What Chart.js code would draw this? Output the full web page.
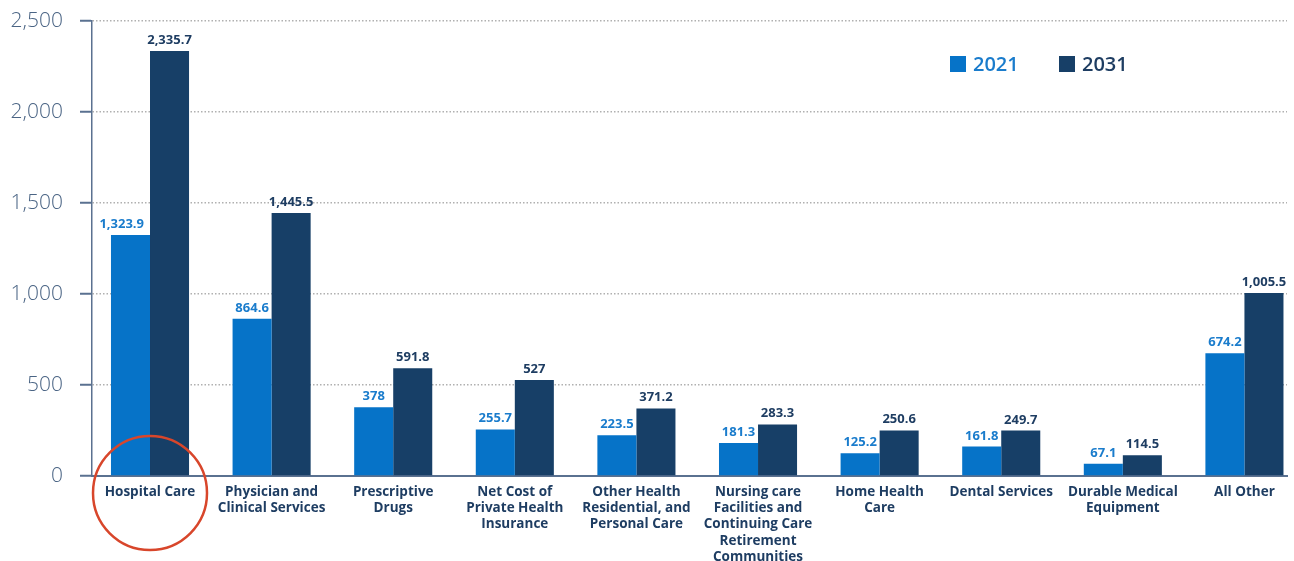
<!DOCTYPE html>
<html>
<head>
<meta charset="utf-8">
<script src="https://cdn.jsdelivr.net/npm/chart.js@4/dist/chart.umd.min.js"></script>
<style>
  html, body { margin: 0; padding: 0; background: #ffffff; }
  #wrap { width: 1294px; height: 561px; }
</style>
</head>
<body>
<div id="wrap"><canvas id="c" width="1294" height="561"></canvas></div>
<script>
const categories = [
  ["Hospital Care"],
  ["Physician and", "Clinical Services"],
  ["Prescriptive", "Drugs"],
  ["Net Cost of", "Private Health", "Insurance"],
  ["Other Health", "Residential, and", "Personal Care"],
  ["Nursing care", "Facilities and", "Continuing Care", "Retirement", "Communities"],
  ["Home Health", "Care"],
  ["Dental Services"],
  ["Durable Medical", "Equipment"],
  ["All Other"]
];
const values2021 = [1323.9, 864.6, 378, 255.7, 223.5, 181.3, 125.2, 161.8, 67.1, 674.2];
const values2031 = [2335.7, 1445.5, 591.8, 527, 371.2, 283.3, 250.6, 249.7, 114.5, 1005.5];
const seriesNames = ["2021", "2031"];
const yTicks = [0, 500, 1000, 1500, 2000, 2500];

const BLUE = "#0673c8";
const NAVY = "#173f67";
const BLUE_TXT = "#1a7ccc";
const NAVY_TXT = "#1e3d62";
const AXIS = "#5a7190";
const FONT = "'Open Sans', 'Lato', sans-serif";

const fmt = v => v.toLocaleString("en-US", { maximumFractionDigits: 1 });

const valueLabels = {
  id: "valueLabels",
  afterDatasetsDraw(chart) {
    const ctx = chart.ctx;
    ctx.save();
    ctx.font = "bold 13px " + FONT;
    ctx.textBaseline = "alphabetic";
    chart.data.datasets.forEach((ds, di) => {
      const meta = chart.getDatasetMeta(di);
      ctx.fillStyle = di === 0 ? BLUE_TXT : NAVY_TXT;
      meta.data.forEach((bar, i) => {
        const txt = fmt(ds.data[i].y);
        const w = ctx.measureText(txt).width;
        if (di === 0 && w > bar.width) {
          ctx.textAlign = "right";
          ctx.fillText(txt, bar.x + bar.width / 2 - 6, bar.y - 7);
        } else {
          ctx.textAlign = "center";
          ctx.fillText(txt, bar.x, bar.y - 7);
        }
      });
    });
    ctx.restore();
  }
};

const customLegend = {
  id: "customLegend",
  afterDraw(chart) {
    const ctx = chart.ctx;
    ctx.save();
    const items = [
      { x: 950, color: BLUE, txt: BLUE_TXT, label: seriesNames[0] },
      { x: 1059, color: NAVY, txt: NAVY_TXT, label: seriesNames[1] }
    ];
    ctx.font = "600 20px " + FONT;
    ctx.textBaseline = "middle";
    ctx.textAlign = "left";
    items.forEach(it => {
      ctx.fillStyle = it.color;
      ctx.fillRect(it.x, 56, 16, 16);
      ctx.fillStyle = it.txt;
      ctx.fillText(it.label, it.x + 23, 65);
    });
    ctx.restore();
  }
};

const highlightCircle = {
  id: "highlightCircle",
  afterDraw(chart) {
    const ctx = chart.ctx;
    const x = chart.scales.x.getPixelForValue(0);
    ctx.save();
    ctx.strokeStyle = "#d8462b";
    ctx.lineWidth = 2.5;
    ctx.beginPath();
    ctx.arc(x, 493, 57, 0, Math.PI * 2);
    ctx.stroke();
    ctx.restore();
  }
};

new Chart(document.getElementById("c"), {
  type: "bar",
  data: {
    datasets: [
      { label: seriesNames[0], data: values2021.map((v, i) => ({ x: i, y: v })), backgroundColor: BLUE },
      { label: seriesNames[1], data: values2031.map((v, i) => ({ x: i, y: v })), backgroundColor: NAVY }
    ]
  },
  options: {
    responsive: false,
    animation: false,
    devicePixelRatio: 1,
    categoryPercentage: 0.642,
    barPercentage: 1.0,
    layout: { padding: { top: 21, right: 7, left: 0, bottom: 0 } },
    plugins: { legend: { display: false }, tooltip: { enabled: false } },
    scales: {
      x: {
        type: "linear",
        min: -0.477,
        max: 9.35,
        offset: false,
        afterBuildTicks: axis => { axis.ticks = categories.map((c, i) => ({ value: i })); },
        afterFit: axis => { axis.height = 85; axis.paddingLeft = 0; axis.paddingRight = 0; },
        grid: { display: false, offset: false, drawTicks: false },
        border: { display: true, color: AXIS, width: 2 },
        ticks: {
          autoSkip: false,
          maxRotation: 0,
          minRotation: 0,
          padding: 8,
          color: NAVY_TXT,
          font: { family: FONT, size: 13.5, weight: "bold", lineHeight: 1.2 },
          callback: (v, i) => categories[i]
        }
      },
      y: {
        min: 0,
        max: 2500,
        afterBuildTicks: axis => { axis.ticks = yTicks.map(v => ({ value: v })); },
        afterFit: axis => { axis.width = 92; axis.paddingTop = 0; axis.paddingBottom = 0; },
        grid: {
          color: ctx => ctx.tick && ctx.tick.value === 0 ? "rgba(0,0,0,0)" : "#b0b0b0",
          lineWidth: 1.5,
          drawTicks: true,
          tickLength: 12,
          tickColor: AXIS,
          tickWidth: 2
        },
        border: { display: true, color: AXIS, width: 1.5, dash: [1.5, 2] },
        ticks: {
          padding: 17,
          color: "#4a6484",
          font: { family: FONT, size: 21, weight: "300" },
          callback: v => fmt(v)
        }
      }
    }
  },
  plugins: [valueLabels, customLegend, highlightCircle]
});
</script>
</body>
</html>
